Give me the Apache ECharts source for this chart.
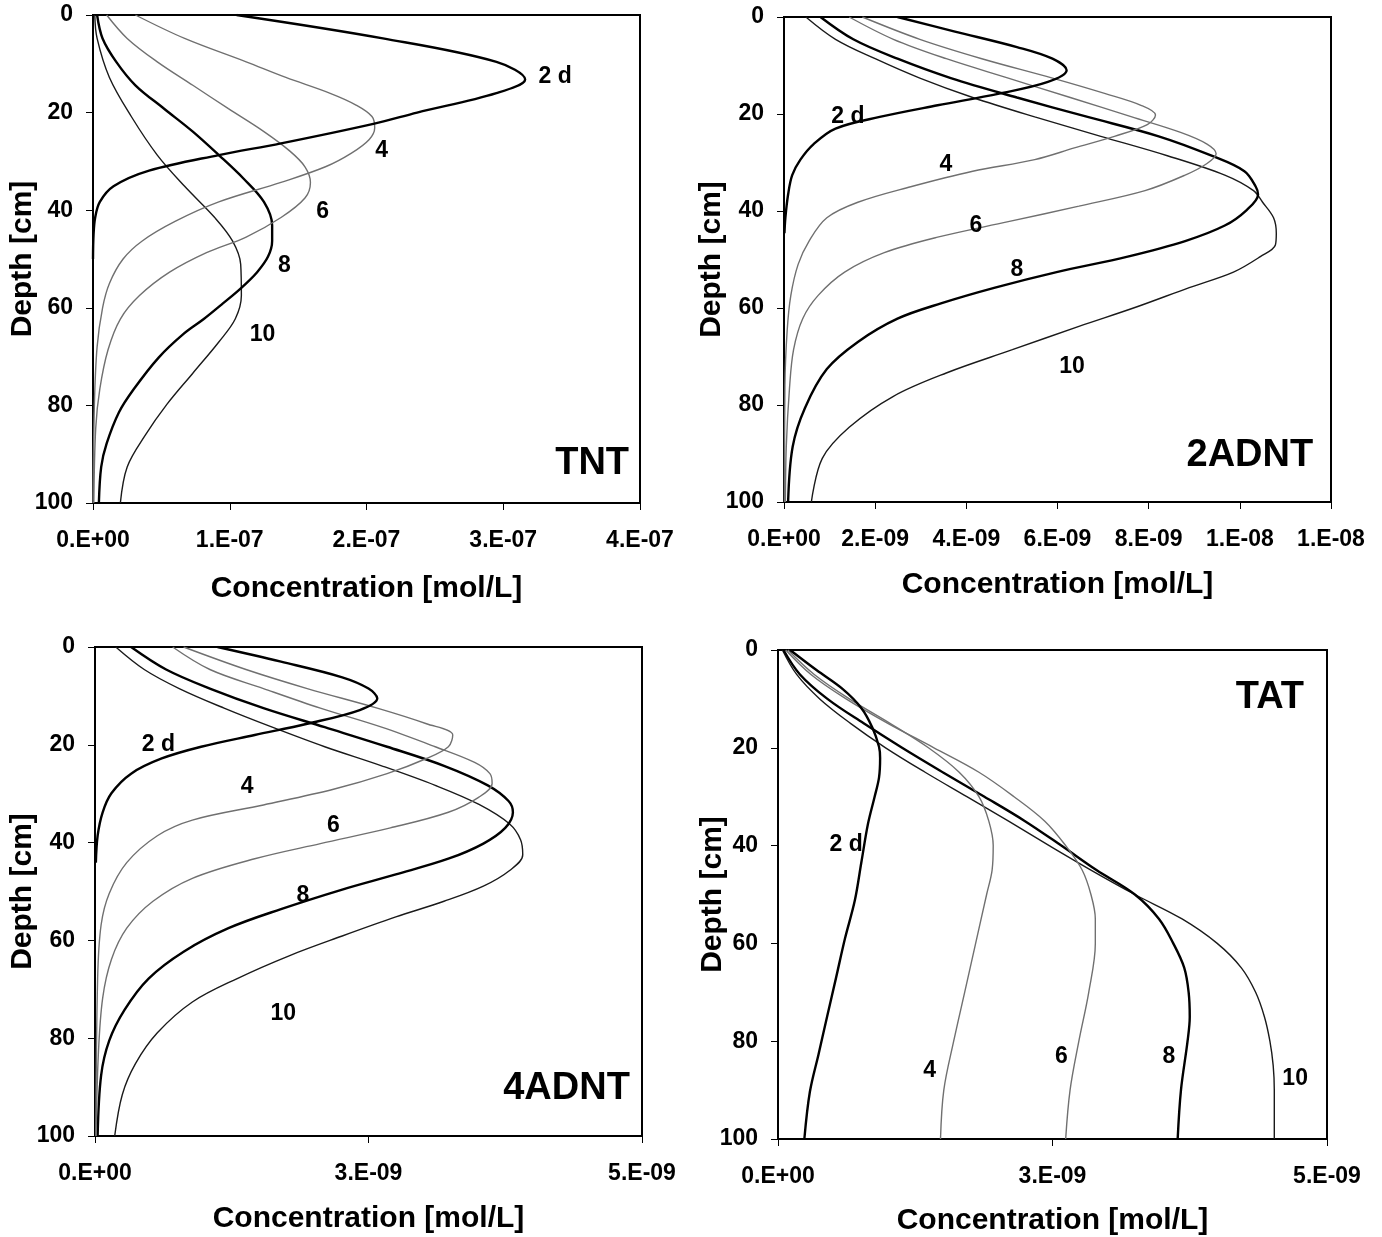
<!DOCTYPE html>
<html><head><meta charset="utf-8">
<script src="https://cdn.jsdelivr.net/npm/echarts@6/dist/echarts.min.js"></script>
<style>html,body{margin:0;padding:0;background:#fff}#c{width:1382px;height:1237px}</style>
</head><body><div id="c"></div>
<script>
// ---------- Tick labels ----------
const tntTicks  = ['0.E+00','1.E-07','2.E-07','3.E-07','4.E-07'];          // x in units of 1e-7
const adnt2Ticks = ['0.E+00','2.E-09','4.E-09','6.E-09','8.E-09','1.E-08','1.E-08']; // units 1e-9
const adnt4Ticks = ['0.E+00','3.E-09','5.E-09'];                           // units 1e-9
const tatTicks  = ['0.E+00','3.E-09','5.E-09'];                            // units 1e-9
const depthTicks = [0, 20, 40, 60, 80, 100];

// ---------- TNT (concentration in 1e-7 mol/L, depth in cm) ----------
const tntD2_depth = [0, 4.8, 9.6, 13.2, 16, 20, 22.3, 26.3, 28.7, 31.9, 35.1, 38.3, 41.5, 45, 50];
const tntD2_conc  = [1.05, 2.12, 2.95, 3.16, 2.95, 2.37, 2.05, 1.375, 0.92, 0.41, 0.15, 0.05, 0.016, 0.004, 0];
const tntD4_depth = [0, 4.8, 9.6, 12.8, 16, 18.4, 20.8, 23.1, 25.5, 28.3, 31.1, 34.3, 38.3, 42.3, 46.3, 50, 55, 60, 68, 80, 100];
const tntD4_conc  = [0.31, 0.67, 1.12, 1.41, 1.73, 1.92, 2.04, 2.06, 2.02, 1.89, 1.70, 1.375, 0.92, 0.60, 0.36, 0.22, 0.12, 0.07, 0.03, 0.01, 0];
const tntD6_depth = [0, 4.8, 9.6, 14.4, 19.2, 23.9, 27.9, 31.1, 34.3, 37.5, 41.5, 45.5, 48.7, 52.7, 57.5, 62.3, 68.6, 76.6, 84.6, 100];
const tntD6_conc  = [0.10, 0.25, 0.47, 0.73, 0.99, 1.25, 1.44, 1.55, 1.59, 1.55, 1.375, 1.12, 0.83, 0.56, 0.34, 0.20, 0.11, 0.05, 0.02, 0.006];
const tntD8_depth = [0, 4.8, 9.6, 14.4, 19.2, 23.9, 28.7, 33.5, 38.3, 43.1, 46.3, 49.5, 52.7, 55.9, 59.1, 62.3, 65.4, 70.2, 76.6, 81.4, 87.8, 92.6, 100];
const tntD8_conc  = [0.03, 0.07, 0.17, 0.31, 0.52, 0.73, 0.92, 1.10, 1.25, 1.31, 1.31, 1.28, 1.20, 1.085, 0.95, 0.81, 0.66, 0.48, 0.30, 0.19, 0.10, 0.06, 0.043];
const tntD10_depth = [0, 4.8, 12.8, 20.8, 28.7, 35.1, 41.5, 46.3, 51.1, 57.5, 62.3, 67, 73.4, 79.8, 86.2, 92.6, 100];
const tntD10_conc  = [0.013, 0.03, 0.12, 0.28, 0.47, 0.67, 0.89, 1.02, 1.08, 1.085, 1.04, 0.92, 0.73, 0.54, 0.38, 0.25, 0.20];

// ---------- 2ADNT (concentration in 1e-9 mol/L) ----------
const a2D2_depth = [0, 3, 6.2, 8.6, 11, 13.4, 15.8, 18.2, 20.6, 23, 26.2, 29.4, 32.6, 36.6, 41.4, 44.6];
const a2D2_conc  = [2.49, 3.75, 5.11, 5.89, 6.2, 5.79, 4.72, 3.37, 2.10, 1.13, 0.65, 0.36, 0.18, 0.09, 0.03, 0.01];
const a2D4_depth = [0, 4.6, 8.6, 12.6, 15.8, 18.2, 20.2, 22.2, 24.6, 27, 29.4, 31.8, 35, 38.2, 41.4, 46.2, 51, 57.4, 64.6, 76, 100];
const a2D4_conc  = [1.72, 2.98, 4.34, 5.89, 7.05, 7.83, 8.15, 7.97, 7.25, 6.37, 5.50, 4.14, 2.78, 1.62, 0.94, 0.55, 0.31, 0.15, 0.07, 0.02, 0.01];
const a2D6_depth = [0, 4.6, 8.6, 12.6, 16.6, 20.6, 23.8, 26.2, 28.2, 30.2, 32.6, 35.8, 39, 42.2, 45.4, 48.6, 52.6, 57.4, 62.2, 68.6, 76.6, 88.6, 100];
const a2D6_conc  = [1.43, 2.40, 3.56, 4.92, 6.28, 7.63, 8.70, 9.28, 9.48, 9.28, 8.80, 7.92, 6.47, 4.92, 3.37, 2.20, 1.33, 0.75, 0.41, 0.21, 0.12, 0.05, 0.03];
const a2D8_depth = [0, 4.6, 8.6, 12.6, 16.6, 20.6, 24.6, 28.6, 31.8, 35, 36.6, 39.8, 43, 46.2, 49.4, 52.6, 55.8, 59, 62.2, 67, 72.6, 80.6, 88.6, 100];
const a2D8_conc  = [0.80, 1.52, 2.49, 3.66, 5.11, 6.66, 8.22, 9.38, 10.1, 10.35, 10.4, 10.15, 9.67, 8.80, 7.54, 5.98, 4.63, 3.46, 2.49, 1.62, 0.94, 0.46, 0.19, 0.09];
const a2D10_depth = [0, 4.6, 8.6, 12.6, 16.6, 20.6, 24.6, 28.6, 32.6, 35.8, 38.2, 41.4, 44.6, 47, 49.4, 52.6, 55.8, 59.8, 63.8, 68.6, 73.4, 78.2, 84.6, 91, 100];
const a2D10_conc  = [0.48, 1.13, 2.0, 2.98, 4.14, 5.50, 6.95, 8.41, 9.67, 10.3, 10.5, 10.74, 10.8, 10.78, 10.45, 9.86, 8.89, 7.73, 6.47, 5.01, 3.56, 2.40, 1.43, 0.84, 0.60];

// ---------- 4ADNT (concentration in 1e-9 mol/L) ----------
const a4D2_depth = [0, 3, 6.2, 8.5, 10.5, 12.9, 15.7, 18, 20.4, 22.8, 25.9, 29.9, 33.8, 38.6, 44.1];
const a4D2_conc  = [1.12, 1.70, 2.26, 2.50, 2.58, 2.42, 1.94, 1.46, 0.97, 0.61, 0.33, 0.15, 0.07, 0.024, 0.008];
const a4D4_depth = [0, 4.6, 8.5, 12.5, 15.7, 18, 20.4, 22.8, 25.9, 29.1, 32.3, 35.4, 38.6, 44.1, 50.4, 56.8, 67.8, 100];
const a4D4_conc  = [0.81, 1.38, 1.94, 2.58, 3.03, 3.27, 3.23, 3.03, 2.67, 2.18, 1.54, 0.89, 0.57, 0.29, 0.13, 0.056, 0.024, 0.008];
const a4D6_depth = [0, 4.6, 8.5, 12.5, 16.4, 20.4, 23.6, 25.9, 27.9, 30.7, 33.8, 37, 40.2, 43.3, 47.3, 52, 57.5, 63.9, 71.8, 83.6, 100];
const a4D6_conc  = [0.71, 1.05, 1.54, 2.06, 2.62, 3.11, 3.47, 3.61, 3.63, 3.51, 3.23, 2.70, 2.06, 1.46, 0.89, 0.53, 0.29, 0.15, 0.07, 0.03, 0.01];
const a4D8_depth = [0, 4.6, 8.5, 12.5, 16.4, 20.4, 24.3, 28.3, 31.5, 33.8, 37, 40.2, 43.3, 46.5, 49.6, 53.6, 57.5, 62.3, 67.8, 74.2, 80.5, 87.6, 100];
const a4D8_conc  = [0.33, 0.65, 1.05, 1.54, 2.10, 2.67, 3.19, 3.59, 3.78, 3.82, 3.75, 3.55, 3.23, 2.75, 2.26, 1.70, 1.22, 0.81, 0.49, 0.27, 0.13, 0.056, 0.024];
const a4D10_depth = [0, 4.6, 8.5, 12.5, 16.4, 20.4, 24.3, 28.3, 32.2, 36.2, 39.4, 42.5, 45.7, 48.9, 52, 55.2, 59.1, 63.1, 67.8, 72.6, 78.9, 85.2, 91.5, 100];
const a4D10_conc  = [0.19, 0.45, 0.77, 1.18, 1.62, 2.10, 2.62, 3.11, 3.51, 3.79, 3.89, 3.91, 3.79, 3.55, 3.19, 2.75, 2.26, 1.78, 1.30, 0.89, 0.57, 0.37, 0.25, 0.18];

// ---------- TAT (concentration in 1e-9 mol/L) ----------
const tatD2_depth = [0, 4.1, 8, 11.9, 15.9, 19.8, 22.1, 26.1, 30, 35.5, 43.3, 51.2, 59, 66.9, 74.7, 82.6, 90.4, 100];
const tatD2_conc  = [0.11, 0.35, 0.59, 0.76, 0.86, 0.92, 0.93, 0.92, 0.88, 0.82, 0.76, 0.70, 0.61, 0.53, 0.45, 0.37, 0.29, 0.24];
const tatD4_depth = [0, 5, 10, 15, 20, 25, 30, 35, 40, 45, 50, 60, 70, 80, 90, 100];
const tatD4_conc  = [0.09, 0.33, 0.65, 1.02, 1.37, 1.65, 1.83, 1.92, 1.96, 1.95, 1.90, 1.80, 1.70, 1.60, 1.51, 1.48];
const tatD6_depth = [0, 5, 10, 15, 20, 25, 30, 35, 40, 45, 50, 55, 60, 70, 80, 90, 100];
const tatD6_conc  = [0.07, 0.30, 0.62, 1.00, 1.42, 1.83, 2.15, 2.43, 2.62, 2.77, 2.85, 2.89, 2.89, 2.83, 2.74, 2.66, 2.62];
const tatD8_depth = [0, 5, 10, 15, 20, 25, 30, 35, 40, 45, 50, 55, 60, 65, 70, 75, 80, 90, 100];
const tatD8_conc  = [0.05, 0.20, 0.45, 0.78, 1.13, 1.50, 1.88, 2.25, 2.58, 2.90, 3.25, 3.47, 3.60, 3.70, 3.74, 3.75, 3.73, 3.67, 3.64];
const tatD10_depth = [0, 5, 10, 15, 20, 25, 30, 35, 40, 45, 50, 55, 60, 65, 70, 75, 80, 85, 90, 100];
const tatD10_conc  = [0.04, 0.17, 0.38, 0.66, 0.98, 1.34, 1.72, 2.10, 2.47, 2.85, 3.25, 3.68, 4.00, 4.22, 4.35, 4.43, 4.48, 4.51, 4.52, 4.52];

// ---------- Curve labels: [conc, depth, text] ----------
const tntLabels  = [[3.38, 12.7, '2 d'], [2.11, 27.9, '4'], [1.68, 40.4, '6'], [1.40, 51.4, '8'], [1.24, 65.6, '10']];
const adnt2Labels = [[1.40, 20.6, '2 d'], [3.55, 30.5, '4'], [4.21, 43.1, '6'], [5.11, 52, '8'], [6.32, 72, '10']];
const adnt4Labels = [[0.58, 20, '2 d'], [1.39, 28.6, '4'], [2.18, 36.6, '6'], [1.90, 50.9, '8'], [1.72, 75, '10']];
const tatLabels  = [[0.62, 39.9, '2 d'], [1.38, 86, '4'], [2.58, 83.1, '6'], [3.56, 83.1, '8'], [4.71, 87.6, '10']];
const panelNames = [[3.65, 92, 'TNT'], [10.22, 90.5, '2ADNT'], [4.31, 90.2, '4ADNT'], [4.48, 9.8, 'TAT']];

// ---------- Build chart ----------
const FONT = 'Arial, "Liberation Sans", sans-serif';
const styles = {
  d2:  {color: '#000', width: 2.4},
  d4:  {color: '#707070', width: 1.4},
  d6:  {color: '#707070', width: 1.4},
  d8:  {color: '#000', width: 2.4},
  d10: {color: '#1a1a1a', width: 1.4}
};
const panels = [
  {grid: {left: 93, top: 15, width: 547, height: 488}, max: 4, interval: 1, ticks: tntTicks, xGap: 71, yGap: 55,
   curves: {d2: [tntD2_depth, tntD2_conc], d4: [tntD4_depth, tntD4_conc], d6: [tntD6_depth, tntD6_conc], d8: [tntD8_depth, tntD8_conc], d10: [tntD10_depth, tntD10_conc]},
   labels: tntLabels},
  {grid: {left: 784, top: 17, width: 547, height: 485}, max: 12, interval: 2, ticks: adnt2Ticks, xGap: 68, yGap: 57,
   curves: {d2: [a2D2_depth, a2D2_conc], d4: [a2D4_depth, a2D4_conc], d6: [a2D6_depth, a2D6_conc], d8: [a2D8_depth, a2D8_conc], d10: [a2D10_depth, a2D10_conc]},
   labels: adnt2Labels},
  {grid: {left: 95, top: 647, width: 547, height: 489}, max: 5, interval: 2.5, ticks: adnt4Ticks, xGap: 68, yGap: 57,
   curves: {d2: [a4D2_depth, a4D2_conc], d4: [a4D4_depth, a4D4_conc], d6: [a4D6_depth, a4D6_conc], d8: [a4D8_depth, a4D8_conc], d10: [a4D10_depth, a4D10_conc]},
   labels: adnt4Labels},
  {grid: {left: 778, top: 650, width: 549, height: 491}, max: 5, interval: 2.5, ticks: tatTicks, xGap: 67, yGap: 50,
   curves: {d2: [tatD2_depth, tatD2_conc], d4: [tatD4_depth, tatD4_conc], d6: [tatD6_depth, tatD6_conc], d8: [tatD8_depth, tatD8_conc], d10: [tatD10_depth, tatD10_conc]},
   labels: tatLabels}
];

const option = {animation: false, backgroundColor: '#fff', grid: [], xAxis: [], yAxis: [], series: []};
panels.forEach((p, i) => {
  option.grid.push(Object.assign({show: true, borderColor: '#000', borderWidth: 2, backgroundColor: 'transparent'}, p.grid));
  option.xAxis.push({
    type: 'value', gridIndex: i, min: 0, max: p.max, interval: p.interval,
    name: 'Concentration [mol/L]', nameLocation: 'middle', nameGap: p.xGap, nameMoveOverlap: false,
    nameTextStyle: {fontFamily: FONT, fontWeight: 'bold', fontSize: 30, color: '#000'},
    axisLine: {show: true, onZero: false, lineStyle: {color: '#000', width: 2}},
    axisTick: {show: true, inside: false, length: 7, lineStyle: {color: '#000', width: 1}},
    axisLabel: {margin: 26, fontFamily: FONT, fontWeight: 'bold', fontSize: 23, color: '#000',
      formatter: v => p.ticks[Math.round(v / p.interval)]},
    splitLine: {show: false}
  });
  option.yAxis.push({
    type: 'value', gridIndex: i, min: depthTicks[0], max: depthTicks[depthTicks.length - 1], interval: 20, inverse: true,
    name: 'Depth [cm]', nameLocation: 'middle', nameGap: p.yGap, nameRotate: 90, nameMoveOverlap: false,
    nameTextStyle: {fontFamily: FONT, fontWeight: 'bold', fontSize: 30, color: '#000'},
    axisLine: {show: true, onZero: false, lineStyle: {color: '#000', width: 2}},
    axisTick: {show: true, inside: false, length: 7, lineStyle: {color: '#000', width: 1}},
    axisLabel: {margin: 20, fontFamily: FONT, fontWeight: 'bold', fontSize: 23, color: '#000'},
    splitLine: {show: false}
  });
  ['d10', 'd8', 'd6', 'd4', 'd2'].forEach(k => {
    const [dep, conc] = p.curves[k];
    option.series.push({
      type: 'line', xAxisIndex: i, yAxisIndex: i, showSymbol: false, smooth: 0.35,
      lineStyle: {color: styles[k].color, width: styles[k].width},
      data: dep.map((d, j) => [conc[j], d]), z: 3
    });
  });
  option.series.push({
    type: 'scatter', xAxisIndex: i, yAxisIndex: i, symbolSize: 0, z: 5,
    itemStyle: {opacity: 1, color: '#000'},
    data: p.labels.map(l => ({value: [l[0], l[1]], name: l[2]})),
    label: {show: true, position: 'inside', formatter: q => q.name, fontFamily: FONT, fontWeight: 'bold', fontSize: 23, color: '#000', opacity: 1}
  });
  const pn = panelNames[i];
  option.series.push({
    type: 'scatter', xAxisIndex: i, yAxisIndex: i, symbolSize: 0, z: 5,
    itemStyle: {opacity: 1, color: '#000'},
    data: [{value: [pn[0], pn[1]], name: pn[2]}],
    label: {show: true, position: 'inside', formatter: q => q.name, fontFamily: FONT, fontWeight: 'bold', fontSize: 38, color: '#000', opacity: 1}
  });
});

const chart = echarts.init(document.getElementById('c'), null, {renderer: 'canvas'});
chart.setOption(option);
</script></body></html>
